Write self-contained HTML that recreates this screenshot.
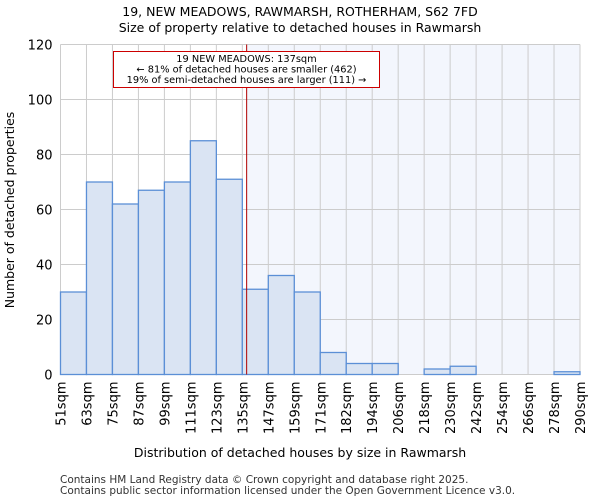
<!DOCTYPE html>
<html><head><meta charset="utf-8"><style>
body{margin:0;background:#fff;font-family:"DejaVu Sans","Liberation Sans",sans-serif}
</style></head><body>
<svg id="chart" width="600" height="500" xmlns="http://www.w3.org/2000/svg" font-family="DejaVu Sans, Liberation Sans, sans-serif">
<text x="300" y="16" text-anchor="middle" font-size="12.5">19, NEW MEADOWS, RAWMARSH, ROTHERHAM, S62 7FD</text>
<text x="300" y="32" text-anchor="middle" font-size="12.5">Size of property relative to detached houses in Rawmarsh</text>
<g id="plot"></g>
<text x="300" y="457" text-anchor="middle" font-size="12.5">Distribution of detached houses by size in Rawmarsh</text>
<text transform="translate(14,210) rotate(-90)" text-anchor="middle" font-size="12.5">Number of detached properties</text>
<text x="60" y="483" font-size="10.5" fill="#333">Contains HM Land Registry data © Crown copyright and database right 2025.</text>
<text x="60" y="494" font-size="10.5" fill="#333">Contains public sector information licensed under the Open Government Licence v3.0.</text>
</svg>
<script>
const binLabels=["51sqm","63sqm","75sqm","87sqm","99sqm","111sqm","123sqm","135sqm","147sqm","159sqm","171sqm","182sqm","194sqm","206sqm","218sqm","230sqm","242sqm","254sqm","266sqm","278sqm","290sqm"];
const counts=[30,70,62,67,70,85,71,31,36,30,8,4,4,0,2,3,0,0,0,1];
const yTicks=[0,20,40,60,80,100,120];
const propertySize=137;
const binStart=51, binStep=12;
const X0=60.5,X1=580,Y0=374.5,Y1=44.5,YMAX=120;
const n=counts.length, bw=(X1-X0)/n;
const xb=i=>X0+i*bw;
const xv=v=>X0+(v-binStart)/binStep*bw;
const y=v=>Y0-(v/YMAX)*(Y0-Y1);
const NS="http://www.w3.org/2000/svg";
const g=document.getElementById('plot');
function mk(t,a){const e=document.createElementNS(NS,t);for(const k in a)e.setAttribute(k,a[k]);g.appendChild(e);return e;}
const px=xv(propertySize);
let e=mk('rect',{x:px,y:Y1,width:X1-px,height:Y0-Y1,fill:'#f3f6fd'});


for(let i=0;i<=n;i++){e=mk('line',{x1:xb(i),x2:xb(i),y1:Y1,y2:Y0,stroke:'#cccccc','stroke-width':1});

}
yTicks.forEach(t=>{e=mk('line',{x1:X0,x2:X1,y1:y(t),y2:y(t),stroke:'#cccccc','stroke-width':1});


e=mk('text',{x:X0-8,y:y(t)+5,'text-anchor':'end','font-size':13});e.textContent=t;

});
counts.forEach((c,i)=>{if(c<=0)return;e=mk('rect',{x:xb(i),y:y(c),width:bw,height:Y0-y(c),fill:'#dae4f3',stroke:'#5b8fd6','stroke-width':1.3});

});
binLabels.forEach((l,i)=>{e=mk('text',{transform:`translate(${xb(i)+5},${Y0+7}) rotate(-90)`,'text-anchor':'end','font-size':13});e.textContent=l;

});
e=mk('line',{x1:px,x2:px,y1:Y1,y2:Y0,stroke:'#b00000','stroke-width':1});


e=mk('rect',{x:113.5,y:51.5,width:266,height:36,fill:'#fff',stroke:'#cc0000','stroke-width':1});


["19 NEW MEADOWS: 137sqm","← 81% of detached houses are smaller (462)","19% of semi-detached houses are larger (111) →"].forEach((t,i)=>{e=mk('text',{x:246.5,y:62+i*10.5,'text-anchor':'middle','font-size':9.8});e.textContent=t;

});
</script>
</body></html>
